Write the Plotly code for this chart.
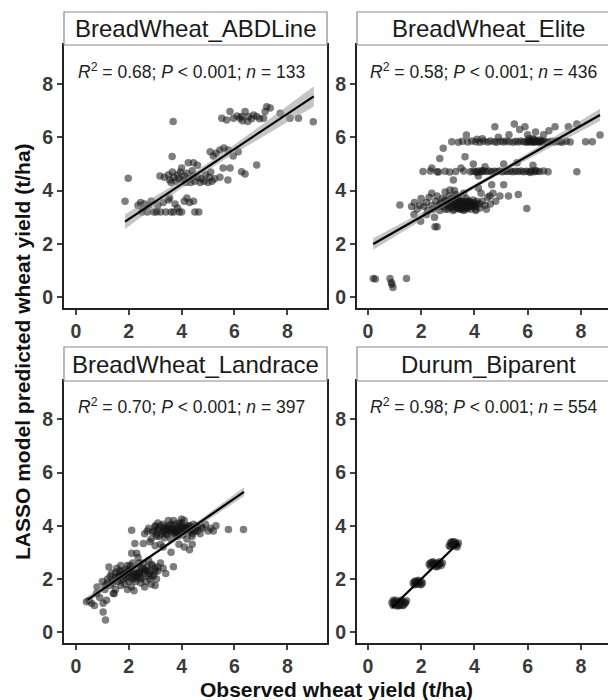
import numpy as np
import plotly.graph_objects as go

W, H = 608, 700

panel_names = ["BreadWheat_ABDLine", "BreadWheat_Elite", "BreadWheat_Landrace", "Durum_Biparent"]
r2_labels = ["0.68", "0.58", "0.70", "0.98"]
n_labels = ["133", "436", "397", "554"]
tick_vals = [0, 2, 4, 6, 8]
tick_text = ["0", "2", "4", "6", "8"]

# ---------- Panel 1: BreadWheat_ABDLine ----------
abd_x = [1.86, 1.98, 3.68, 3.64, 3.18,
         2.35, 2.45, 2.55, 2.6, 2.7, 2.75, 2.85, 2.95, 3.05, 3.1, 3.2, 3.3, 3.4, 3.5, 3.6, 3.7, 3.75, 3.85, 4.0, 4.1,
         4.2, 4.3, 4.45, 4.5, 4.65, 3.55, 2.5, 3.9,
         3.35, 3.5, 3.55, 3.65, 3.7, 3.78, 3.85, 3.9, 3.95, 4.05, 4.1, 4.15, 4.2, 4.3, 4.35, 4.45, 4.5, 4.6, 4.7, 4.75,
         4.85, 4.9, 5.0, 5.05, 5.15, 5.25, 4.0, 4.25, 4.45, 4.6, 3.6, 4.4, 5.1,
         5.45, 5.75, 5.57, 5.83, 6.27, 6.4, 6.84,
         5.08, 5.2, 5.45, 5.6, 5.76, 5.95, 6.14, 5.3,
         5.52, 5.7, 5.83, 5.96, 6.1, 6.21, 6.27, 6.4, 6.5, 6.53, 6.65, 6.72, 6.84, 6.95, 7.1, 7.16, 7.35, 7.22, 7.73,
         8.1, 8.42, 8.98, 6.3]
abd_y = [3.6, 4.46, 6.6, 5.28, 4.55,
         3.45, 3.55, 3.3, 3.5, 3.2, 3.45, 3.6, 3.2, 3.2, 3.45, 3.2, 3.55, 3.2, 3.65, 3.2, 3.2, 3.5, 3.35, 3.2, 3.6,
         3.72, 3.55, 3.6, 3.2, 3.2, 3.72, 3.2, 3.2,
         4.5, 4.6, 4.4, 4.7, 4.5, 4.35, 4.6, 4.45, 4.7, 4.4, 4.55, 4.3, 4.65, 4.45, 4.3, 4.55, 4.35, 4.5, 4.3, 4.45,
         4.35, 4.6, 4.3, 4.5, 4.35, 4.45, 4.85, 5.05, 5.05, 4.95, 4.3, 4.75, 4.7,
         4.5, 4.4, 4.85, 4.85, 4.71, 4.62, 4.96,
         5.46, 5.3, 5.53, 5.6, 5.53, 5.3, 5.46, 5.4,
         6.72, 6.65, 6.97, 6.72, 6.8, 6.72, 6.78, 6.97, 6.6, 6.78, 6.7, 6.84, 6.78, 6.7, 6.72, 6.97, 7.1, 7.15, 6.91,
         6.72, 6.72, 6.59, 6.62]

# ---------- Panel 2: BreadWheat_Elite ----------
elite_x = [0.2, 0.28, 0.83, 0.88, 0.94, 0.9, 1.45,
           1.2, 2.52, 2.6, 1.98, 1.73,
           3.15, 3.4, 3.55, 3.75, 3.9, 4.05, 4.2, 4.35, 4.5, 4.6, 4.75, 4.85, 5.0, 5.1, 5.2, 5.3, 5.45, 5.55, 5.65,
           5.75, 5.85, 5.95, 6.0, 6.05, 6.1, 6.15, 6.2, 6.25, 6.3, 6.35, 6.4, 6.45, 6.5, 6.55, 6.6, 6.7, 6.8, 6.9,
           7.0, 7.1, 7.2, 7.3, 7.45, 7.6, 8.18, 8.43, 6.05, 6.25, 6.45, 4.3, 4.1,
           3.7, 4.77, 5.5, 5.9, 5.7, 7.03, 7.53, 7.85, 8.72, 6.0, 6.3, 6.6, 5.3, 6.8, 4.9, 6.2,
           2.83, 7.85,
           2.07, 2.35, 2.6, 2.9, 3.3, 3.6, 3.85, 3.95, 4.05, 4.15, 4.25, 4.35, 4.45, 4.55, 4.65, 4.75, 4.85, 4.95,
           5.05, 5.15, 5.25, 5.35, 5.45, 5.55, 5.65, 5.75, 5.85, 5.95, 6.05, 6.15, 6.25, 6.35, 6.45, 6.6, 6.77,
           4.1, 4.3, 6.1, 6.3,
           2.7, 2.65, 3.08, 3.65, 3.96, 5.1, 3.21, 4.15, 3.08, 4.65, 5.1, 4.58, 5.28, 5.65, 5.97, 4.4, 5.6, 6.2,
           2.4, 3.5,
           1.64, 1.75, 1.85, 1.95, 2.0, 2.1, 2.2, 2.25, 2.3, 2.4, 2.45, 2.55, 2.6, 2.65, 2.7, 2.75, 2.8, 2.85, 2.9,
           2.95, 3.0, 3.05, 3.1, 3.15, 3.2, 3.25, 3.3, 3.35, 3.4, 3.45, 3.5, 3.55, 3.6, 3.65, 3.7, 3.75, 3.8, 3.85,
           3.9, 3.95, 4.0, 4.05, 4.1, 4.2, 4.3, 4.4, 4.5, 4.6, 4.7, 4.8, 4.96, 3.3, 3.6, 2.4, 3.45, 3.55, 3.65,
           3.75, 3.85, 3.5, 3.4, 3.2, 3.0, 2.5, 2.2, 4.25, 4.15, 4.45, 3.25, 2.9,
           3.35, 3.45, 3.6, 3.7, 3.8, 3.9, 4.0, 3.5, 3.65,
           3.0, 3.1, 3.2, 3.3, 3.4, 3.5, 3.6, 3.7, 3.8, 3.9, 4.0, 4.1, 4.2, 3.25, 3.45, 3.65, 3.85, 4.05, 3.15,
           3.35, 3.55, 3.75, 3.95, 2.7, 2.9]
elite_y = [0.7, 0.68, 0.7, 0.55, 0.36, 0.48, 0.7,
           3.46, 2.64, 2.64, 2.85, 3.1,
           5.84, 5.82, 5.85, 5.83, 5.86, 5.84, 5.82, 5.85, 5.83, 5.86, 5.84, 5.82, 5.85, 5.83, 5.86, 5.84, 5.82,
           5.85, 5.83, 5.86, 5.84, 5.82, 5.85, 5.83, 5.86, 5.84, 5.82, 5.85, 5.83, 5.86, 5.84, 5.82, 5.85, 5.83,
           5.86, 5.84, 5.82, 5.85, 5.83, 5.86, 5.84, 5.82, 5.85, 5.83, 5.84, 5.84, 5.95, 5.92, 5.9, 5.95, 5.93,
           6.09, 6.4, 6.5, 6.4, 6.3, 6.4, 6.4, 6.5, 6.09, 6.1, 6.2, 6.1, 6.1, 6.25, 6.0, 5.95,
           5.59, 4.71,
           4.72, 4.74, 4.71, 4.73, 4.72, 4.74, 4.71, 4.73, 4.72, 4.74, 4.71, 4.73, 4.72, 4.74, 4.71, 4.73, 4.72,
           4.74, 4.71, 4.73, 4.72, 4.74, 4.71, 4.73, 4.72, 4.74, 4.71, 4.73, 4.72, 4.74, 4.71, 4.73, 4.72, 4.74,
           4.71, 4.68, 4.76, 4.68, 4.76,
           5.21, 4.7, 4.7, 5.27, 5.0, 5.0, 4.4, 4.55, 4.02, 4.22, 4.22, 3.8, 3.8, 3.85, 3.33, 4.9, 5.05, 4.95,
           4.85, 4.85,
           3.4, 3.55, 3.3, 3.45, 3.7, 3.4, 3.55, 3.25, 3.75, 3.45, 3.3, 3.6, 3.8, 3.4, 3.25, 3.55, 3.7, 3.4, 3.3,
           3.6, 3.45, 3.8, 3.35, 3.55, 3.25, 3.45, 3.65, 3.35, 3.5, 3.3, 3.6, 3.4, 3.25, 3.5, 3.7, 3.35, 3.55, 3.3,
           3.45, 3.65, 3.4, 3.25, 3.5, 3.35, 3.6, 3.45, 3.75, 3.5, 3.9, 3.6, 3.8, 3.85, 3.9, 3.9, 3.45, 3.6, 3.3,
           3.45, 3.55, 3.3, 3.7, 3.6, 3.3, 3.0, 3.1, 3.9, 4.1, 3.3, 4.0, 3.95,
           3.4, 3.55, 3.45, 3.35, 3.5, 3.4, 3.55, 3.5, 3.6,
           3.5, 3.4, 3.6, 3.45, 3.35, 3.55, 3.45, 3.4, 3.6, 3.5, 3.45, 3.6, 3.5, 3.3, 3.6, 3.55, 3.4, 3.3, 3.7,
           3.75, 3.35, 3.6, 3.45, 3.5, 3.65]

# ---------- Panel 3: BreadWheat_Landrace ----------
land_x = [1.12, 2.11, 5.77, 6.34, 1.03,
          0.4, 0.59, 1.03, 1.16, 0.78, 1.41, 0.5, 0.9, 0.7,
          0.8, 1.0, 1.1, 1.2, 1.3, 1.35, 1.4, 1.5, 1.5, 1.55, 1.6, 1.65, 1.7, 1.75, 1.8, 1.85, 1.9, 1.95, 2.0,
          2.0, 2.05, 2.1, 2.1, 2.15, 2.2, 2.25, 2.3, 2.3, 2.35, 2.4, 2.45, 2.5, 2.5, 2.55, 2.6, 2.65, 2.7, 2.75,
          2.8, 2.85, 2.9, 2.95, 3.0, 3.05, 3.1, 3.2, 3.3, 3.4, 3.69, 1.25, 1.7, 2.11, 2.3, 1.45, 2.6, 3.0, 1.95,
          2.2, 2.75, 2.4, 1.6, 1.8, 2.0, 2.2, 2.4, 2.6, 2.8, 1.9, 2.3,
          1.2, 1.4, 1.6, 1.8, 2.0, 2.2, 2.4, 2.6, 2.8, 3.0, 1.3, 1.5, 1.7, 1.9, 2.1, 2.3, 2.5, 2.7, 2.9, 3.1,
          1.1, 2.05, 2.45, 2.85, 1.65,
          2.23, 2.55, 2.6, 2.75, 2.85, 2.95, 3.0, 3.05, 3.15, 3.2, 3.25, 3.3, 3.35, 3.4, 3.45, 3.5, 3.55, 3.6,
          3.65, 3.7, 3.75, 3.8, 3.85, 3.9, 3.95, 4.0, 4.05, 4.1, 4.15, 4.2, 4.25, 4.3, 4.35, 4.4, 4.45, 4.5, 4.6,
          4.7, 4.8, 4.9, 5.0, 5.1, 5.3, 3.3, 3.6, 3.9, 4.1, 4.3, 4.4, 3.0, 2.8, 3.1, 3.5, 4.0, 3.75, 4.2, 3.9,
          3.6, 3.4, 3.7, 3.8, 4.0, 4.1, 3.5, 3.3, 4.3,
          2.9, 3.0, 3.1, 3.2, 3.3, 3.4, 3.5, 3.6, 3.7, 3.8, 3.9, 4.0, 4.1, 4.2, 4.3, 4.4, 4.5, 4.6, 3.15, 3.35,
          3.55, 3.75, 3.95, 4.15, 4.35, 4.55, 4.75, 5.2, 2.7, 3.05]
land_y = [0.45, 3.83, 3.86, 3.86, 0.76,
          1.14, 1.08, 1.08, 1.2, 1.45, 1.45, 1.2, 1.3, 1.0,
          1.7, 1.9, 1.6, 2.0, 1.75, 2.2, 1.85, 2.05, 1.6, 2.4, 1.9, 2.15, 1.75, 2.3, 2.0, 1.8, 2.2, 2.5, 1.9,
          2.1, 2.35, 1.7, 2.0, 2.6, 2.2, 1.9, 2.4, 2.05, 2.8, 2.2, 1.85, 2.35, 2.05, 2.6, 2.2, 1.9, 2.45, 2.1,
          2.3, 1.8, 2.5, 2.15, 2.4, 2.0, 2.3, 2.6, 2.4, 2.2, 2.46, 2.45, 2.5, 2.96, 2.96, 1.45, 1.7, 1.75, 1.6,
          1.55, 2.7, 2.6, 2.1, 2.15, 2.25, 2.0, 2.1, 2.3, 2.0, 2.05, 2.2,
          1.85, 1.95, 2.05, 2.2, 2.3, 2.1, 2.25, 2.35, 2.2, 2.3, 2.1, 2.25, 1.95, 2.35, 2.2, 2.15, 2.4, 2.3, 2.1, 2.45,
          1.75, 2.5, 2.0, 2.55, 2.3,
          3.33, 3.33, 3.7, 3.9, 3.5, 3.8, 4.0, 3.6, 3.9, 3.3, 3.7, 4.05, 3.55, 3.85, 3.65, 4.0, 3.8, 3.5,
          3.95, 4.2, 3.7, 3.9, 3.6, 4.1, 3.8, 3.95, 3.65, 4.2, 3.85, 3.5, 4.0, 3.75, 3.9, 3.6, 4.05, 3.8, 3.95,
          3.7, 3.9, 4.05, 3.8, 3.9, 4.0, 3.2, 3.0, 3.3, 3.2, 3.1, 3.3, 3.25, 3.4, 4.1, 4.2, 4.25, 4.05, 3.95, 3.85,
          3.75, 3.9, 3.85, 3.75, 3.8, 3.9, 3.85, 3.8, 3.85,
          3.75, 3.95, 3.85, 4.0, 3.8, 3.7, 3.9, 4.05, 3.85, 3.75, 3.95, 4.1, 3.8, 3.9, 4.0, 3.7, 3.85, 3.8, 3.6, 3.95,
          3.85, 3.75, 4.0, 3.9, 3.85, 4.0, 3.95, 3.8, 3.8, 3.7]

# ---------- Panel 4: Durum_Biparent ----------
durum_x = [0.9, 0.95, 1.0, 1.05, 1.1, 1.15, 1.2, 1.25, 1.3, 1.35, 1.4, 1.45, 1.0, 1.1, 1.2, 1.3, 0.95, 1.15, 1.25, 1.05,
           1.7, 1.75, 1.8, 1.85, 1.9, 1.95, 2.0, 2.05, 1.8, 1.9, 1.75, 2.0,
           2.3, 2.35, 2.4, 2.45, 2.5, 2.55, 2.6, 2.65, 2.7, 2.75, 2.8, 2.45, 2.6, 2.7, 2.35,
           3.05, 3.1, 3.15, 3.2, 3.25, 3.3, 3.35, 3.4, 3.15, 3.25, 3.35, 3.1,
           1.0, 1.2, 1.4, 1.85, 2.5, 2.65, 3.2, 3.3]
durum_y = [1.1, 1.0, 1.15, 1.05, 0.98, 1.12, 1.0, 1.08, 1.15, 1.02, 1.1, 1.18, 1.05, 1.1, 1.15, 1.0, 1.2, 1.0, 1.2, 1.2,
           1.85, 1.78, 1.92, 1.82, 1.88, 1.8, 1.9, 1.85, 1.8, 1.95, 1.9, 1.78,
           2.55, 2.48, 2.62, 2.52, 2.58, 2.47, 2.6, 2.52, 2.57, 2.5, 2.6, 2.64, 2.46, 2.64, 2.6,
           3.25, 3.35, 3.28, 3.38, 3.25, 3.33, 3.27, 3.35, 3.4, 3.4, 3.2, 3.22,
           1.1, 1.05, 1.1, 1.88, 2.55, 2.55, 3.3, 3.3]

# regression lines
fit_intercept = [1.61, 1.88, 0.91, 0.05]
fit_slope = [0.659, 0.569, 0.686, 0.97]
fit_xmin = [1.86, 0.2, 0.45, 0.9]
fit_xmax = [9.0, 8.72, 6.36, 3.4]

xs = [abd_x, elite_x, land_x, durum_x]
ys = [abd_y, elite_y, land_y, durum_y]

# ---------- geometry (pixels) ----------
left_px = [(64, 327), (357, 608), (64, 327), (357, 608)]
top_px = [(45, 308), (45, 308), (381, 643), (381, 643)]
strip_px = [(12, 45), (12, 45), (347, 381), (347, 381)]
xranges = [[-0.45, 9.5], [-0.41, 9.02], [-0.45, 9.5], [-0.41, 9.02]]
yranges = [[-0.41, 9.47], [-0.41, 9.47], [-0.41, 9.44], [-0.41, 9.44]]

FONT = "Liberation Sans, Arial, Helvetica, sans-serif"
fig = go.Figure()
layout = dict(width=W, height=H, margin=dict(l=0, r=0, t=0, b=0),
              paper_bgcolor="white", plot_bgcolor="white", showlegend=False,
              font=dict(family=FONT))
shapes, annotations = [], []

for i in range(4):
    k = "" if i == 0 else str(i + 1)
    xa, ya = "x" + k, "y" + k
    x = np.array(xs[i]); y = np.array(ys[i])
    N = int(n_labels[i])
    b0, b1 = fit_intercept[i], fit_slope[i]
    lx = np.linspace(fit_xmin[i], fit_xmax[i], 60)
    ly = b0 + b1 * lx
    resid = y - (b0 + b1 * x)
    n = len(x)
    s = np.sqrt(np.sum(resid ** 2) / (n - 2))
    sxx = np.sum((x - x.mean()) ** 2) * N / n
    se = s * np.sqrt(1.0 / N + (lx - x.mean()) ** 2 / sxx)
    hw = 1.97 * se
    fig.add_trace(go.Scatter(x=x, y=y, mode="markers", xaxis=xa, yaxis=ya,
                             marker=dict(size=7.5, color="rgba(20,20,20,0.55)", line=dict(width=0)),
                             hoverinfo="skip"))
    fig.add_trace(go.Scatter(x=np.concatenate([lx, lx[::-1]]), y=np.concatenate([ly + hw, (ly - hw)[::-1]]),
                             fill="toself", mode="lines", line=dict(width=0),
                             fillcolor="rgba(150,150,150,0.55)", xaxis=xa, yaxis=ya, hoverinfo="skip"))
    fig.add_trace(go.Scatter(x=lx, y=ly, mode="lines", line=dict(color="black", width=2.2),
                             xaxis=xa, yaxis=ya, hoverinfo="skip"))

    right = i in (1, 3)
    xl, xr = left_px[i]
    yt, yb = top_px[i]
    axis_common = dict(showgrid=False, zeroline=False, ticks="outside", ticklen=5, tickwidth=1.5,
                       tickcolor="#444", showline=True, linecolor="#222", linewidth=2,
                       tickvals=tick_vals, ticktext=tick_text,
                       tickfont=dict(family=FONT, size=19.5, color="#3a3a3a", weight="bold"))
    layout["xaxis" + k] = dict(axis_common, domain=[xl / W, xr / W], range=xranges[i],
                               anchor=ya, mirror=True)
    layout["yaxis" + k] = dict(axis_common, domain=[1 - yb / H, 1 - yt / H], range=yranges[i],
                               anchor=xa, mirror=(not right))
    st, sb = strip_px[i]
    shapes.append(dict(type="rect", xref="paper", yref="paper", x0=xl / W, x1=(xl + 263) / W,
                       y0=1 - sb / H, y1=1 - st / H, fillcolor="white",
                       line=dict(color="#8a8a8a", width=1.2), layer="above"))
    annotations.append(dict(xref="paper", yref="paper", x=(xl + 131.5) / W, y=1 - (st + sb) / 2 / H,
                            text=panel_names[i], showarrow=False, xanchor="center", yanchor="middle",
                            font=dict(family=FONT, size=24, color="#1a1a1a")))
    annotations.append(dict(xref=xa, yref=ya, x=0.0, y=8.5, xanchor="left", yanchor="middle",
                            text="<i>R</i><sup>2</sup> = " + r2_labels[i] + "; <i>P</i> < 0.001; <i>n</i> = " + n_labels[i],
                            showarrow=False, font=dict(family=FONT, size=17.5, color="#222")))

annotations.append(dict(xref="paper", yref="paper", x=336 / W, y=1 - 689 / H, xanchor="center", yanchor="middle",
                        text="<b>Observed wheat yield (t/ha)</b>", showarrow=False, borderpad=0,
                        font=dict(family=FONT, size=21, color="#111")))
annotations.append(dict(xref="paper", yref="paper", x=22 / W, y=1 - 352 / H, xanchor="center", yanchor="middle",
                        text="<b>LASSO model predicted wheat yield (t/ha)</b>", showarrow=False, textangle=-90,
                        font=dict(family=FONT, size=21, color="#111")))
layout["shapes"] = shapes
layout["annotations"] = annotations
fig.update_layout(**layout)
fig.write_html("out.html", config={"displayModeBar": False},
               post_script="document.body.style.margin='0px';")
